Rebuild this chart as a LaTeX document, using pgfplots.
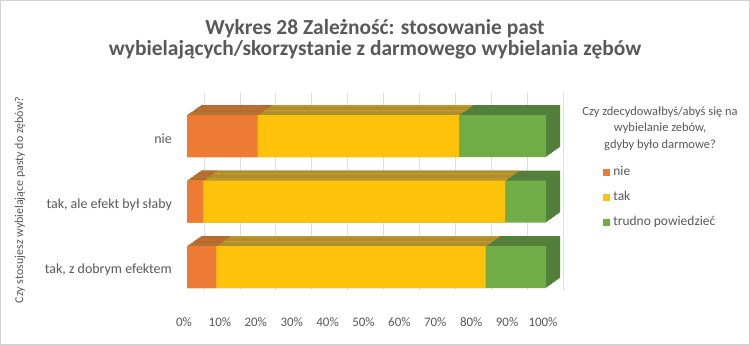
\documentclass[border=0pt]{standalone}
\usepackage{pgfplots}
\pgfplotsset{compat=1.18}
\usepackage{pgfplotstable}
\usepackage{fontspec}
\setmainfont{Carlito}
\definecolor{txt}{HTML}{595959}
\definecolor{ofront}{HTML}{EE7B33}
\definecolor{otop}{HTML}{C0652F}
\definecolor{yfront}{HTML}{FFC20A}
\definecolor{ytop}{HTML}{C8962A}
\definecolor{gfront}{HTML}{70AD47}
\definecolor{gtop}{HTML}{52803A}

\pgfplotstableread{
pos nie tak trudno
0 8.2 75.0 16.8
1 4.5 84.1 11.4
2 19.7 56.0 24.3
}\data

\pgfplotsset{
  base/.style={scale only axis, width=359bp, height=196.5bp, anchor=south west,
    xmin=0, xmax=100, ymin=-0.5, ymax=2.5},
  bars/.style={forget plot, xbar, bar width=42bp, bar shift=0pt, draw=none},
}

\begin{document}
\begin{tikzpicture}
\draw[fill=white, draw=gray!35, line width=1bp] (0.5bp,0.5bp) rectangle (749.5bp,344.5bp);
\node[font=\fontsize{21.5}{24}\selectfont\bfseries, text=txt, anchor=base] at (375bp,310bp) {Wykres 28 Zależność: stosowanie past};
\node[font=\fontsize{21.5}{24}\selectfont\bfseries, text=txt, anchor=base] at (375bp,289bp) {wybielających/skorzystanie z darmowego wybielania zębów};
\node[font=\fontsize{12}{14}\selectfont, text=txt, rotate=90] at (20bp,145bp) {Czy stosujesz wybielające pasty do zębów?};
\node[font=\fontsize{12.5}{16.5}\selectfont, text=txt, align=center, anchor=north] at (660bp,242bp) {Czy zdecydowałbyś/abyś się na\\wybielanie zebów,\\gdyby było darmowe?};

% back wall grid
\begin{axis}[base, at={(204bp,55bp)},
  axis line style={draw=none}, tick style={draw=none},
  xtick={0,10,...,100}, ytick=\empty, xticklabels={},
  xmajorgrids, grid style={gray!25, line width=0.7bp}]
\addplot[draw=none, forget plot] coordinates {(0,0)};
\end{axis}

% depth (top and side faces)
\foreach \k in {12,11,...,1}{
\begin{axis}[base, hide axis, at={(187bp+\k*1.1667bp,45bp+\k*0.8333bp)}]
  \addplot[bars, fill=gtop] table[x expr={\thisrow{nie}+\thisrow{tak}+\thisrow{trudno}}, y=pos]{\data};
  \addplot[bars, fill=ytop] table[x expr={\thisrow{nie}+\thisrow{tak}}, y=pos]{\data};
  \addplot[bars, fill=otop] table[x=nie, y=pos]{\data};
\end{axis}
}

% front faces
\begin{axis}[base, at={(187bp,45bp)},
  axis line style={draw=none}, tick style={draw=none},
  /pgf/number format/assume math mode=true,
  xtick={0,10,...,100},
  xticklabel={\pgfmathprintnumber{\tick}\%},
  ytick={0,1,2},
  yticklabels={{tak, z dobrym efektem},{tak, ale efekt był słaby},nie},
  tick label style={text=txt, inner sep=0pt},
  xticklabel style={font=\fontsize{13}{15}\selectfont, anchor=north, yshift=-17bp, xshift=-3bp},
  yticklabel style={font=\fontsize{14}{16}\selectfont, anchor=east, xshift=-15bp, yshift=-3bp},
  legend image code/.code={\fill[#1] (0bp,-3.5bp) rectangle (7bp,3.5bp);},
  legend style={at={(1.158,0.685)}, anchor=north west, draw=none, fill=none,
    font=\fontsize{13.5}{16}\selectfont, text=txt, inner sep=0pt, row sep=11bp,
    nodes={inner sep=0.5bp, text height=9.5bp, text depth=3.5bp, anchor=west},
    /tikz/every odd column/.append style={column sep=3bp}},
  legend cell align=left,
]
\addplot[bars, fill=gfront]
  table[x expr={\thisrow{nie}+\thisrow{tak}+\thisrow{trudno}}, y=pos]{\data};
\addplot[bars, fill=yfront]
  table[x expr={\thisrow{nie}+\thisrow{tak}}, y=pos]{\data};
\addplot[bars, fill=ofront]
  table[x=nie, y=pos]{\data};
\addlegendimage{fill=ofront, draw=none}\addlegendentry{nie}
\addlegendimage{fill=yfront, draw=none}\addlegendentry{tak}
\addlegendimage{fill=gfront, draw=none}\addlegendentry{trudno powiedzieć}
\end{axis}
\end{tikzpicture}
\end{document}
